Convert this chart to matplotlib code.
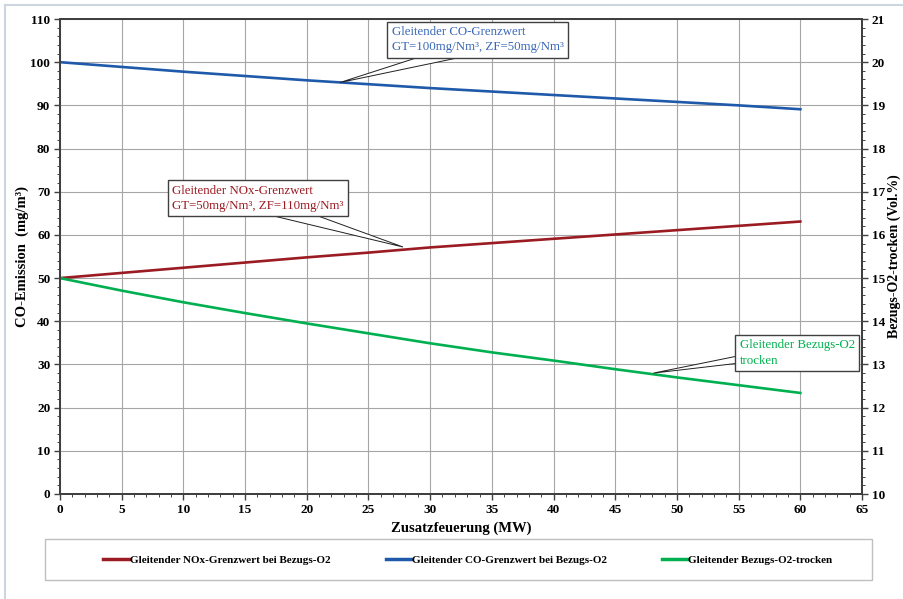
import matplotlib
matplotlib.use("Agg")
import matplotlib.pyplot as plt
from matplotlib.lines import Line2D
from matplotlib.patches import Polygon
from matplotlib.ticker import MultipleLocator

plt.rcParams["font.family"] = ["Liberation Serif", "DejaVu Serif"]

# data
zusatz_mw = [0, 5, 10, 15, 20, 25, 30, 35, 40, 45, 50, 55, 60]
nox_grenzwert = [50, 51.2, 52.4, 53.6, 54.8, 55.9, 57.1, 58.1, 59.1, 60.1, 61.1, 62.1, 63.1]
co_grenzwert = [100, 98.9, 97.8, 96.8, 95.8, 94.9, 94.0, 93.2, 92.4, 91.6, 90.8, 90.0, 89.1]
o2_trocken = [15.0, 14.71, 14.44, 14.19, 13.95, 13.72, 13.49, 13.28, 13.09, 12.89, 12.70, 12.52, 12.34]

labels = ["Gleitender NOx-Grenzwert bei Bezugs-O2",
          "Gleitender CO-Grenzwert bei Bezugs-O2",
          "Gleitender Bezugs-O2-trocken"]

RED = "#9B1B22"
BLUE = "#1F5AAA"
GREEN = "#00B050"
GRID = "#A6A6A6"
SPINE = "#404040"

W, H = 904, 599
fig = plt.figure(figsize=(W / 100, H / 100), dpi=100)
ax = fig.add_axes([60 / W, (H - 494) / H, 802 / W, 475 / H])
ax2 = ax.twinx()

l1, = ax.plot(zusatz_mw, nox_grenzwert, color=RED, lw=1.9)
l2, = ax.plot(zusatz_mw, co_grenzwert, color=BLUE, lw=1.9)
l3, = ax2.plot(zusatz_mw, o2_trocken, color=GREEN, lw=1.9)

ax.set_xlim(0, 65)
ax.set_ylim(0, 110)
ax2.set_ylim(10, 21)
ax.xaxis.set_major_locator(MultipleLocator(5))
ax.xaxis.set_minor_locator(MultipleLocator(1))
ax.yaxis.set_major_locator(MultipleLocator(10))
ax.yaxis.set_minor_locator(MultipleLocator(2))
ax2.yaxis.set_major_locator(MultipleLocator(1))
ax2.yaxis.set_minor_locator(MultipleLocator(0.2))

ax.grid(True, which="major", color=GRID, lw=0.8)
ax.set_axisbelow(True)

for a in (ax, ax2):
    for s in a.spines.values():
        s.set_color(SPINE)
        s.set_linewidth(1.4)
    a.tick_params(which="major", length=4, width=1, color=SPINE,
                  labelsize=9.5, pad=3)
    a.tick_params(which="minor", length=2.5, width=0.7, color=SPINE)
    for t in a.get_xticklabels() + a.get_yticklabels():
        t.set_fontweight("bold")

ax.set_xlabel("Zusatzfeuerung (MW)", fontsize=10.5, fontweight="bold", labelpad=4)
ax.set_ylabel("CO-Emission  (mg/m³)", fontsize=10.5, fontweight="bold", labelpad=1)
ax2.set_ylabel("Bezugs-O2-trocken (Vol.%)", fontsize=10, fontweight="bold", labelpad=2)

box = dict(boxstyle="square,pad=0.35", fc="white", ec=SPINE, lw=1.0)


def callout(axis, text, color, xytext, tip, base1, base2):
    # callout wedge: tip on the line, base on the edge of the text box
    axis.add_patch(Polygon([tip, base1, base2], closed=True, fc="white",
                           ec="#202020", lw=0.7, zorder=4))
    axis.text(xytext[0], xytext[1], text, ha="left", va="top", color=color,
              fontsize=9.3, linespacing=1.35, bbox=box, zorder=5)


callout(ax, "Gleitender CO-Grenzwert\nGT=100mg/Nm³, ZF=50mg/Nm³", "#3A68B8",
        (26.9, 108.3), (22.7, 95.3), (29.0, 101.1), (32.4, 101.1))
callout(ax, "Gleitender NOx-Grenzwert\nGT=50mg/Nm³, ZF=110mg/Nm³", RED,
        (9.1, 71.6), (27.8, 57.2), (17.3, 64.4), (20.9, 64.4))
callout(ax2, "Gleitender Bezugs-O2\ntrocken", GREEN,
        (55.1, 13.58), (48.1, 12.80), (55.0, 13.20), (55.0, 13.03))

leg = fig.legend([l1, l2, l3], labels, loc="center", ncol=3,
                 bbox_to_anchor=(468 / W, (H - 560) / H),
                 fancybox=False, frameon=False, handlelength=2.3,
                 handletextpad=0.05, columnspacing=5.0,
                 prop=dict(family="Liberation Serif", weight="bold", size=8))
for h in leg.get_lines():
    h.set_linewidth(2.5)

# legend frame and light frame of the chart area
fig.add_artist(plt.Rectangle((45 / W, (H - 580) / H), 827 / W, 41 / H,
                             transform=fig.transFigure, fill=False,
                             ec="#BFBFBF", lw=1.0))
fig.add_artist(Line2D([5 / W, 5 / W], [0, 1 - 5 / H], color="#CDD5DE", lw=1.5))
fig.add_artist(Line2D([5 / W, 1], [1 - 5 / H, 1 - 5 / H], color="#CDD5DE", lw=1.5))

fig.savefig("out.png", dpi=100)
